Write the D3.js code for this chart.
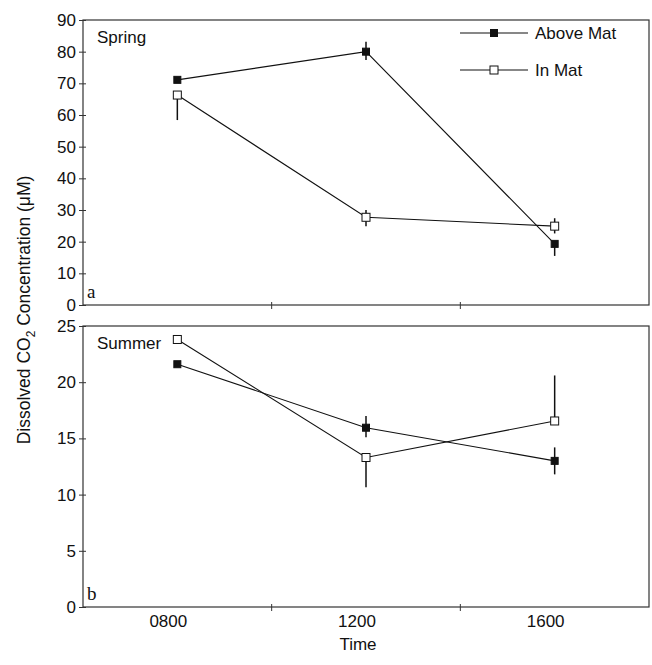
<!DOCTYPE html>
<html>
<head>
<meta charset="utf-8">
<script src="https://cdn.jsdelivr.net/npm/d3@7"></script>
<style>
  body { margin: 0; background: #fff; }
  svg text { font-family: "Liberation Sans", Arial, sans-serif; fill: #111; }
</style>
</head>
<body>
<svg id="chart" width="652" height="665"></svg>
<script>
const times = ["0800", "1200", "1600"];
const seriesNames = ["Above Mat", "In Mat"];

// spring (panel a)
const springAbove = [71.1, 80.0, 19.3];
const springAboveUp = [0, 3.1, 0];
const springAboveDown = [0, 2.6, 3.8];
const springIn = [66.3, 27.7, 24.9];
const springInUp = [0, 2.3, 2.5];
const springInDown = [7.9, 2.8, 2.3];

// summer (panel b)
const summerAbove = [21.6, 15.95, 13.0];
const summerAboveUp = [0, 1.05, 1.2];
const summerAboveDown = [0, 0.85, 1.2];
const summerIn = [23.8, 13.3, 16.55];
const summerInUp = [0, 0, 4.05];
const summerInDown = [0, 2.65, 0];

const springTicks = [0, 10, 20, 30, 40, 50, 60, 70, 80, 90];
const summerTicks = [0, 5, 10, 15, 20, 25];

const svg = d3.select("#chart");
const left = 83, right = 649;
const axisColor = "#333";

const x = d3.scaleBand().domain(times).range([left, right]);

const panels = [
  {
    name: "Spring", letter: "a", top: 20, bottom: 305, max: 90, ticks: springTicks,
    series: [
      { values: springAbove, up: springAboveUp, down: springAboveDown, filled: true },
      { values: springIn, up: springInUp, down: springInDown, filled: false }
    ]
  },
  {
    name: "Summer", letter: "b", top: 326, bottom: 607, max: 25, ticks: summerTicks,
    series: [
      { values: summerAbove, up: summerAboveUp, down: summerAboveDown, filled: true },
      { values: summerIn, up: summerInUp, down: summerInDown, filled: false }
    ]
  }
];

panels.forEach((p) => {
  const y = d3.scaleLinear().domain([0, p.max]).range([p.bottom, p.top]);
  const g = svg.append("g");

  // frame
  g.append("rect")
    .attr("x", left).attr("y", p.top)
    .attr("width", right - left).attr("height", p.bottom - p.top)
    .attr("fill", "none").attr("stroke", axisColor).attr("stroke-width", 1.2);

  // y axis ticks (cross both sides)
  const yAxis = g.append("g").attr("transform", `translate(${left},0)`)
    .call(d3.axisLeft(y).tickValues(p.ticks).tickSize(4).tickPadding(3));
  yAxis.select(".domain").remove();
  yAxis.selectAll(".tick line").attr("x2", 3).attr("x1", -4).attr("stroke", axisColor);
  yAxis.selectAll(".tick text")
    .style("font-size", "17px")
    .style("font-family", "'Liberation Sans', Arial, sans-serif")
    .attr("fill", "#111");

  // x ticks at band edges
  const edges = times.slice(1).map((t) => x(t));
  g.selectAll(".xt").data(edges).enter().append("line")
    .attr("x1", (d) => d).attr("x2", (d) => d)
    .attr("y1", p.bottom - 3).attr("y2", p.bottom + 4)
    .attr("stroke", axisColor);

  // panel name
  g.append("text").attr("x", 97).attr("y", p.top + 23)
    .style("font-size", "17px").text(p.name);
  // panel letter
  g.append("text").attr("x", 87).attr("y", p.bottom - 7)
    .style("font-family", "'Liberation Serif', 'Times New Roman', serif")
    .style("font-size", "19px").text(p.letter);

  const line = d3.line().x((d, i) => x(times[i]) + x.bandwidth() / 2).y((d) => y(d));

  p.series.forEach((s) => {
    // error bars
    g.selectAll(null).data(s.values).enter().append("line")
      .attr("x1", (d, i) => x(times[i]) + x.bandwidth() / 2)
      .attr("x2", (d, i) => x(times[i]) + x.bandwidth() / 2)
      .attr("y1", (d, i) => y(d + s.up[i]))
      .attr("y2", (d, i) => y(d - s.down[i]))
      .attr("stroke", "#111").attr("stroke-width", 1.5);

    g.append("path").datum(s.values)
      .attr("d", line).attr("fill", "none")
      .attr("stroke", "#111").attr("stroke-width", 1.1);

    const sz = s.filled ? 7 : 8;
    g.selectAll(null).data(s.values).enter().append("rect")
      .attr("x", (d, i) => x(times[i]) + x.bandwidth() / 2 - sz / 2)
      .attr("y", (d) => y(d) - sz / 2)
      .attr("width", sz).attr("height", sz)
      .attr("fill", s.filled ? "#111" : "#fff")
      .attr("stroke", "#111").attr("stroke-width", 1);
  });
});

// x labels
svg.selectAll(".xl").data(times).enter().append("text")
  .attr("x", (d) => x(d) + x.bandwidth() / 2 - 9)
  .attr("y", 627)
  .attr("text-anchor", "middle")
  .style("font-size", "17px")
  .text((d) => d);

svg.append("text").attr("x", 358).attr("y", 650)
  .attr("text-anchor", "middle").style("font-size", "17px").text("Time");

// y label
const yl = svg.append("text")
  .attr("transform", "translate(30,310) rotate(-90)")
  .attr("text-anchor", "middle")
  .style("font-size", "17.5px");
yl.append("tspan").text("Dissolved CO");
yl.append("tspan").attr("dy", 5).style("font-size", "12px").text("2");
yl.append("tspan").attr("dy", -5).text(" Concentration (\u03bcM)");

// legend
const legend = svg.append("g");
seriesNames.forEach((name, i) => {
  const ly = 33 + i * 37;
  legend.append("line").attr("x1", 460).attr("x2", 528)
    .attr("y1", ly).attr("y2", ly).attr("stroke", "#111").attr("stroke-width", 1.1);
  const sz = i === 0 ? 7 : 8;
  legend.append("rect").attr("x", 494 - sz / 2).attr("y", ly - sz / 2)
    .attr("width", sz).attr("height", sz)
    .attr("fill", i === 0 ? "#111" : "#fff").attr("stroke", "#111");
  legend.append("text").attr("x", 535).attr("y", ly + 6)
    .style("font-size", "17px").text(name);
});
</script>
</body>
</html>
